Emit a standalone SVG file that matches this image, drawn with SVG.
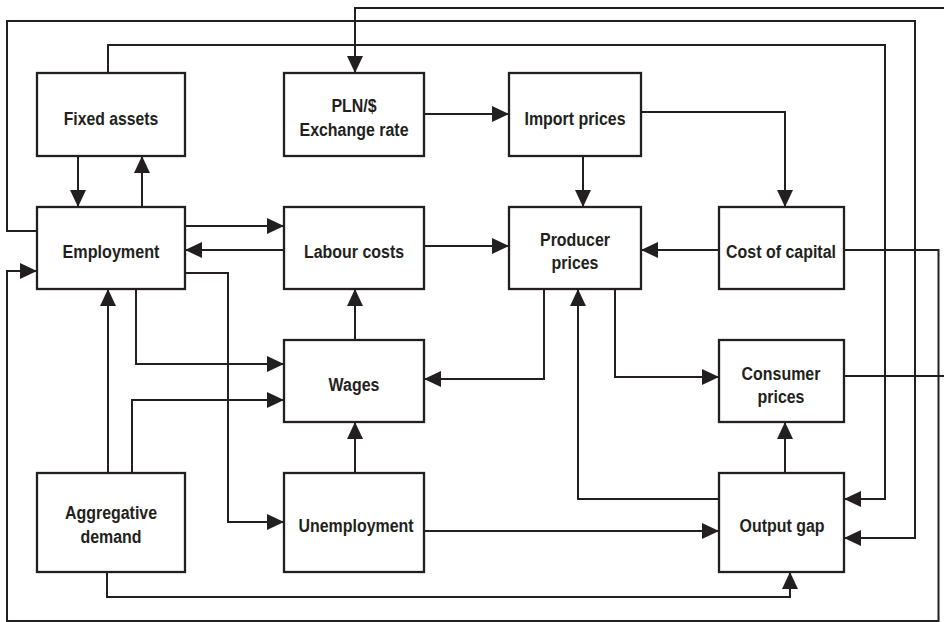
<svg xmlns="http://www.w3.org/2000/svg" width="944" height="622" viewBox="0 0 944 622">
<style>
.box rect{fill:#fff;stroke:#231f20;stroke-width:2.3}
.box text{font-family:"Liberation Sans",Arial,sans-serif;font-weight:bold;font-size:19px;fill:#231f20;text-anchor:middle}
.conn path{fill:none;stroke:#231f20;stroke-width:2;marker-end:url(#ah)}
</style>
<defs>
<marker id="ah" viewBox="0 0 17 16" refX="17" refY="8" markerWidth="17" markerHeight="16" markerUnits="userSpaceOnUse" orient="auto">
<path d="M0,0 L17,8 L0,16 z" fill="#231f20"/>
</marker>
</defs>
<rect width="944" height="622" fill="#fff"/>
<g id="connectors" class="conn">
<path d="M844 376 H950 V8 H355 V73"/>
<path d="M37 231 H7 V21 H915 V538 H844"/>
<path d="M108 73 V45 H885 V499 H844"/>
<path d="M78 156 V207"/>
<path d="M142 207 V156"/>
<path d="M185 226 H284"/>
<path d="M284 250 H185"/>
<path d="M424 114 H509"/>
<path d="M583 156 V207"/>
<path d="M641 112 H785 V207"/>
<path d="M719 250 H641"/>
<path d="M424 246 H509"/>
<path d="M844 250 H938.5 V621 H7 V271 H37"/>
<path d="M136 289 V364 H284"/>
<path d="M185 273 H228 V522 H284"/>
<path d="M108 473 V289"/>
<path d="M132 473 V400 H284"/>
<path d="M544 289 V379 H424"/>
<path d="M355 340 V289"/>
<path d="M355 473 V422"/>
<path d="M615 289 V377 H719"/>
<path d="M719 499 H578 V289"/>
<path d="M785 473 V422"/>
<path d="M424 531 H719"/>
<path d="M107 572 V597 H790 V572"/>
</g>
<g id="fixed-assets" class="box"><rect x="37" y="73" width="148" height="83"/><text transform="matrix(0.83 0 0 1 111 125)">Fixed assets</text></g>
<g id="pln-exchange-rate" class="box"><rect x="284" y="73" width="140" height="83"/><text transform="matrix(0.84 0 0 1 354 112)">PLN/$</text><text transform="matrix(0.84 0 0 1 354 136)">Exchange rate</text></g>
<g id="import-prices" class="box"><rect x="509" y="73" width="132" height="83"/><text transform="matrix(0.84 0 0 1 575 125)">Import prices</text></g>
<g id="employment" class="box"><rect x="37" y="207" width="148" height="82"/><text transform="matrix(0.85 0 0 1 111 258)">Employment</text></g>
<g id="labour-costs" class="box"><rect x="284" y="207" width="140" height="82"/><text transform="matrix(0.84 0 0 1 354 258)">Labour costs</text></g>
<g id="producer-prices" class="box"><rect x="509" y="207" width="132" height="82"/><text transform="matrix(0.84 0 0 1 575 246)">Producer</text><text transform="matrix(0.84 0 0 1 575 269)">prices</text></g>
<g id="cost-of-capital" class="box"><rect x="719" y="207" width="125" height="82"/><text transform="matrix(0.84 0 0 1 781 258)">Cost of capital</text></g>
<g id="wages" class="box"><rect x="284" y="340" width="140" height="82"/><text transform="matrix(0.84 0 0 1 354 391)">Wages</text></g>
<g id="consumer-prices" class="box"><rect x="719" y="340" width="125" height="82"/><text transform="matrix(0.84 0 0 1 781 380)">Consumer</text><text transform="matrix(0.84 0 0 1 781 403)">prices</text></g>
<g id="aggregative-demand" class="box"><rect x="37" y="473" width="148" height="99"/><text transform="matrix(0.84 0 0 1 111 519)">Aggregative</text><text transform="matrix(0.84 0 0 1 111 543)">demand</text></g>
<g id="unemployment" class="box"><rect x="284" y="473" width="140" height="99"/><text transform="matrix(0.84 0 0 1 356 532)">Unemployment</text></g>
<g id="output-gap" class="box"><rect x="719" y="473" width="125" height="99"/><text transform="matrix(0.84 0 0 1 782 532)">Output gap</text></g>
</svg>
